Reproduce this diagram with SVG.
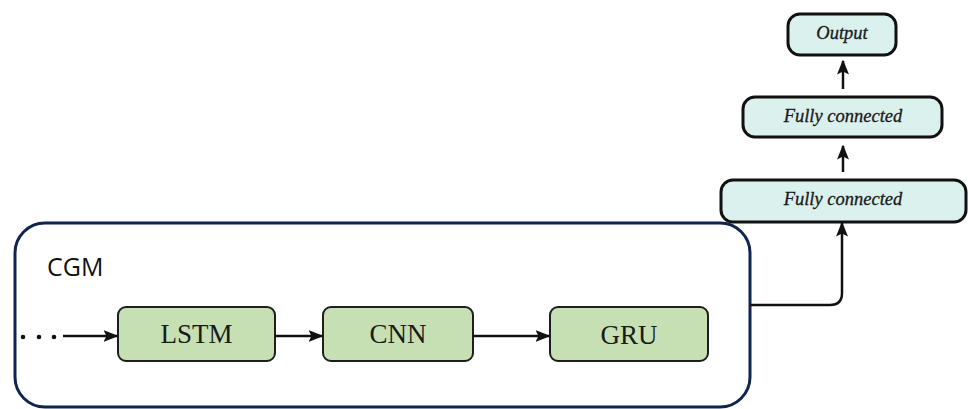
<svg xmlns="http://www.w3.org/2000/svg" width="968" height="409" viewBox="0 0 968 409">
<style>
.green{fill:#c6e0b4;stroke:#1e1e1e;stroke-width:2}
.cyan{fill:#daf1ed;stroke:#111;stroke-width:3}
.serif{font-family:"Liberation Serif","Times New Roman",serif;fill:#1a1a1a}
.lbl{font-size:27px;text-anchor:middle}
.it{font-size:18.5px;font-style:italic;text-anchor:middle;stroke:#1a1a1a;stroke-width:0.3}
.conn{fill:none;stroke:#111;stroke-width:2.5}
</style>
<defs>
<marker id="ah" viewBox="0 0 10 10" refX="9" refY="5" markerWidth="6" markerHeight="6" orient="auto" markerUnits="strokeWidth">
<path d="M0,1 L10,5 L0,9 L2,5 Z" fill="#111"/>
</marker>
</defs>
<rect width="968" height="409" fill="#fff"/>
<g id="cgm">
<rect x="15" y="223" width="735" height="184" rx="30" fill="#fff" stroke="#0f2550" stroke-width="3"/>
<text x="47" y="276" font-family="'Open Sans','Liberation Sans',sans-serif" font-size="25" fill="#111">CGM</text>
</g>
<g id="lstm">
<rect class="green" x="118" y="307" width="157" height="54" rx="8"/>
<text class="serif lbl" x="196.5" y="343">LSTM</text>
</g>
<g id="cnn">
<rect class="green" x="323" y="307" width="150" height="54" rx="8"/>
<text class="serif lbl" x="398" y="343">CNN</text>
</g>
<g id="gru">
<rect class="green" x="550" y="307" width="158" height="54" rx="8"/>
<text class="serif lbl" x="629" y="344">GRU</text>
</g>
<g id="fc1">
<rect class="cyan" x="721" y="180" width="245" height="42" rx="12"/>
<text class="serif it" x="843" y="205">Fully connected</text>
</g>
<g id="fc2">
<rect class="cyan" x="743" y="97" width="199" height="40" rx="12"/>
<text class="serif it" x="843" y="122">Fully connected</text>
</g>
<g id="output">
<rect class="cyan" x="788" y="14" width="108" height="41" rx="12"/>
<text class="serif it" x="842" y="39">Output</text>
</g>
<g id="connectors">
<g fill="#111">
<circle cx="23" cy="337" r="2.3"/>
<circle cx="39" cy="337" r="2.3"/>
<circle cx="54" cy="337" r="2.3"/>
</g>
<path class="conn" d="M63 336 H117" marker-end="url(#ah)"/>
<path class="conn" d="M275 336 H322" marker-end="url(#ah)"/>
<path class="conn" d="M473 336 H549" marker-end="url(#ah)"/>
<path class="conn" d="M750 305 H830 Q842 305 842 293 V223" marker-end="url(#ah)"/>
<path class="conn" d="M843 172 V146" marker-end="url(#ah)"/>
<path class="conn" d="M843 89 V61" marker-end="url(#ah)"/>
</g>
</svg>
